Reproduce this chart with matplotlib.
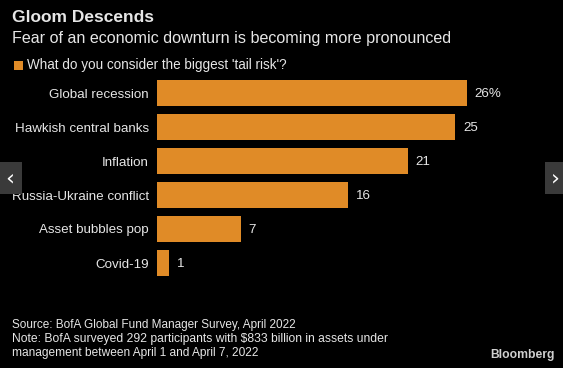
import matplotlib
matplotlib.use("Agg")
import matplotlib.pyplot as plt
from matplotlib.patches import Rectangle

categories = ["Global recession", "Hawkish central banks", "Inflation",
              "Russia-Ukraine conflict", "Asset bubbles pop", "Covid-19"]
values = [26, 25, 21, 16, 7, 1]
value_labels = ["26%", "25", "21", "16", "7", "1"]

BG = "#000000"
ORANGE = "#E08B27"
TXT = "#E6E6E6"
FONT = "Liberation Sans"

W, H = 563, 368
fig = plt.figure(figsize=(W / 100, H / 100), dpi=100, facecolor=BG)

def fx(px):
    return px / W

def fy(py):
    return 1 - py / H

ax_left, ax_top, ax_bottom = 157, 76, 280
units = 30
ax_w = units * 11.93
ax = fig.add_axes([fx(ax_left), fy(ax_bottom), ax_w / W, (ax_bottom - ax_top) / H])
ax.set_facecolor(BG)
ypos = list(range(len(categories)))
ax.barh(ypos, values, height=0.765, color=ORANGE, edgecolor="none")
ax.set_xlim(0, units)
ax.set_ylim(len(categories) - 0.5, -0.5)
for s in ax.spines.values():
    s.set_visible(False)
ax.set_xticks([])
ax.set_yticks(ypos)
ax.set_yticklabels(categories, color=TXT, fontsize=9.6, family=FONT)
ax.tick_params(axis="y", length=0, pad=6)
for y, v, lab in zip(ypos, values, value_labels):
    ax.annotate(lab, (v, y), xytext=(5.5, -0.5), textcoords="offset points",
                va="center", ha="left", color=TXT, fontsize=9.6, family=FONT)

fig.text(fx(12), fy(18), "Gloom Descends", color=TXT, fontsize=12.5, fontweight="bold",
         va="center", ha="left", family=FONT)
fig.text(fx(12), fy(39), "Fear of an economic downturn is becoming more pronounced",
         color=TXT, fontsize=11.6, va="center", ha="left", family=FONT)
fig.patches.append(Rectangle((fx(14), fy(70)), 9 / W, 9 / H, transform=fig.transFigure,
                             facecolor=ORANGE, edgecolor="none"))
fig.text(fx(27), fy(65.5), "What do you consider the biggest 'tail risk'?",
         color=TXT, fontsize=9.75, va="center", ha="left", family=FONT)

fig.text(fx(12), fy(325), "Source: BofA Global Fund Manager Survey, April 2022",
         color=TXT, fontsize=8.5, va="center", ha="left", family=FONT)
fig.text(fx(12), fy(339), "Note: BofA surveyed 292 participants with $833 billion in assets under",
         color=TXT, fontsize=8.7, va="center", ha="left", family=FONT)
fig.text(fx(12), fy(353), "management between April 1 and April 7, 2022",
         color=TXT, fontsize=8.6, va="center", ha="left", family=FONT)
fig.text(fx(555), fy(355), "Bloomberg", color="#D0D0D0", fontsize=8.7,
         fontweight="bold", va="center", ha="right", family=FONT)

fig.patches.append(Rectangle((fx(0), fy(194)), 22 / W, 32 / H, transform=fig.transFigure,
                             facecolor="#3A3A3A", edgecolor="none"))
fig.text(fx(10), fy(178), "‹", color="white", fontsize=16, va="center", ha="center", family="DejaVu Sans")
fig.patches.append(Rectangle((fx(545), fy(194)), 18 / W, 32 / H, transform=fig.transFigure,
                             facecolor="#3A3A3A", edgecolor="none"))
fig.text(fx(555), fy(178), "›", color="white", fontsize=16, va="center", ha="center", family="DejaVu Sans")

fig.savefig("out.png", dpi=100, facecolor=BG)
